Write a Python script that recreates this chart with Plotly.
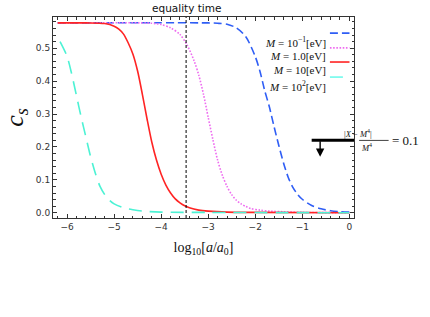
import plotly.graph_objects as go

# ---- data ----
series_names = ["<i>M</i> = 10<sup>−1</sup>[eV]", "<i>M</i> = 1.0[eV]",
                "<i>M</i> = 10[eV]", "<i>M</i> = 10<sup>2</sup>[eV]"]

x_blue = [-6.2, -3.0, -2.8, -2.6, -2.4, -2.2, -2.0, -1.9, -1.8, -1.7, -1.6, -1.5,
          -1.4, -1.3, -1.2, -1.1, -1.0, -0.8, -0.6, -0.4, -0.2, 0.0]
y_blue = [0.577, 0.577, 0.576, 0.573, 0.562, 0.535, 0.475, 0.43, 0.372, 0.322, 0.262,
          0.205, 0.152, 0.108, 0.077, 0.056, 0.041, 0.022, 0.012, 0.006, 0.003, 0.002]

x_mag = [-6.2, -4.2, -4.0, -3.8, -3.6, -3.45, -3.3, -3.2, -3.1, -3.0, -2.9, -2.8,
         -2.7, -2.6, -2.5, -2.4, -2.3, -2.2, -2.1, -1.9, -1.7, -1.4, -1.0, 0.0]
y_mag = [0.577, 0.576, 0.572, 0.562, 0.542, 0.51, 0.462, 0.418, 0.36, 0.29, 0.222,
         0.16, 0.114, 0.08, 0.055, 0.038, 0.027, 0.019, 0.013, 0.008, 0.005, 0.003,
         0.001, 0.0]

x_red = [-6.2, -5.6, -5.2, -5.0, -4.9, -4.8, -4.7, -4.6, -4.5, -4.4, -4.3, -4.2,
         -4.1, -4.0, -3.9, -3.8, -3.7, -3.6, -3.5, -3.4, -3.2, -3.0, -2.6, -2.0, 0.0]
y_red = [0.577, 0.577, 0.575, 0.567, 0.558, 0.543, 0.516, 0.482, 0.43, 0.36, 0.285,
         0.215, 0.16, 0.117, 0.084, 0.06, 0.042, 0.03, 0.021, 0.015, 0.008, 0.005,
         0.002, 0.001, 0.0]

x_cyan = [-6.15, -6.0, -5.9, -5.8, -5.7, -5.6, -5.5, -5.4, -5.3, -5.2, -5.1, -5.0,
          -4.8, -4.6, -4.4, -4.0, -3.0, 0.0]
y_cyan = [0.52, 0.475, 0.42, 0.355, 0.29, 0.23, 0.17, 0.12, 0.08, 0.055, 0.038,
          0.027, 0.015, 0.009, 0.005, 0.002, 0.001, 0.0]

x_ticks = [-6, -5, -4, -3, -2, -1, 0]
y_ticks = [0.0, 0.1, 0.2, 0.3, 0.4, 0.5]

equality_x = -3.47
threshold_y = 0.22
threshold_x0 = -0.8
arrow_x = -0.62
arrow_tip_y = 0.17

colors = ["#2f5ef5", "#ee6cf0", "#ff2424", "#4cf2d4"]
legend_colors = ["#2f5ef5", "#ee6cf0", "#ff3b3b", "#80fbee"]
dashes = ["8px,4px", "1.6px,1.6px", "solid", "13px,8px"]

fig = go.Figure()
for xs, ys, name, c, d in zip([x_blue, x_mag, x_red, x_cyan],
                              [y_blue, y_mag, y_red, y_cyan],
                              series_names, colors, dashes):
    fig.add_trace(go.Scatter(x=xs, y=ys, name=name, mode="lines",
                             line=dict(color=c, width=1.6, dash=d, shape="spline",
                                       smoothing=0.8),
                             showlegend=False, hoverinfo="skip"))

axis_common = dict(showline=True, linecolor="#333", linewidth=1, mirror="allticks",
                   ticks="inside", ticklen=4, tickcolor="#333", tickwidth=1,
                   showgrid=False, zeroline=False, automargin=False,
                   tickfont=dict(family="DejaVu Sans", size=9, color="#333"))

fig.update_xaxes(range=[-6.3, 0.1], tickvals=x_ticks,
                 minor=dict(dtick=0.2, ticklen=2.5, ticks="inside", tickcolor="#333"),
                 title=dict(text="log<sub>10</sub>[<i>a</i>/<i>a</i><sub>0</sub>]",
                            font=dict(family="Liberation Serif", size=14, color="#111"),
                            standoff=11),
                 **axis_common)
fig.update_yaxes(range=[-0.016, 0.595], tickvals=y_ticks, tickformat=".1f",
                 minor=dict(dtick=0.02, ticklen=2.5, ticks="inside", tickcolor="#333"),
                 title=dict(text="<i>c</i><sub><i>s</i></sub>",
                            font=dict(family="Liberation Serif", size=26, color="#111"),
                            standoff=6),
                 **axis_common)

shapes = []
annotations = []
# equality time line
shapes.append(dict(type="line", xref="x", yref="paper", x0=equality_x, x1=equality_x,
                   y0=0, y1=1, line=dict(color="black", width=1, dash="3px,2px")))
annotations.append(dict(x=equality_x, y=1, xref="x", yref="paper", yanchor="bottom",
                        yshift=1, text="equality time", showarrow=False,
                        font=dict(family="DejaVu Sans", size=10.5, color="#111")))
# threshold bar + arrow
shapes.append(dict(type="line", xref="x", yref="y", x0=threshold_x0, x1=0.1,
                   y0=threshold_y, y1=threshold_y, line=dict(color="black", width=3)))
annotations.append(dict(x=arrow_x, y=arrow_tip_y, xref="x", yref="y", ax=0, ay=-17,
                        text="", showarrow=True, arrowhead=2, arrowsize=1.2,
                        arrowwidth=1.4, arrowcolor="black"))
# fraction label
serif = dict(family="Liberation Serif", color="#111")
annotations.append(dict(x=1.066, y=0.386, xref="paper", yref="paper", yanchor="bottom",
                        yshift=-1, text="|<i>X</i> − <i>M</i><sup>4</sup>|",
                        showarrow=False, font=dict(size=8.5, **serif)))
annotations.append(dict(x=1.066, y=0.386, xref="paper", yref="paper", yanchor="top",
                        yshift=0, text="<i>M</i><sup>4</sup>", showarrow=False,
                        font=dict(size=8.5, **serif)))
shapes.append(dict(type="line", xref="paper", yref="paper", x0=1.017, x1=1.115,
                   y0=0.386, y1=0.386, line=dict(color="#111", width=0.8)))
annotations.append(dict(x=1.12, y=0.386, xref="paper", yref="paper", xanchor="left",
                        text="= 0.1", showarrow=False, font=dict(size=13, **serif)))

# manual legend (text left of swatch)
legend_y = [0.920, 0.846, 0.776, 0.701]
for name, c, d, yy in zip(series_names, legend_colors, dashes, legend_y):
    annotations.append(dict(x=0.912, y=yy, xref="paper", yref="paper", xanchor="right",
                            text=name, showarrow=False, font=dict(size=11, **serif)))
    shapes.append(dict(type="line", xref="paper", yref="paper", x0=0.92, x1=0.985,
                       y0=yy, y1=yy, line=dict(color=c, width=1.8, dash=d)))

fig.update_layout(width=430, height=317, margin=dict(l=53, r=76, t=17, b=99),
                  plot_bgcolor="white", paper_bgcolor="white",
                  shapes=shapes, annotations=annotations, showlegend=False)

fig.write_html("out.html", config={"displayModeBar": False},
               post_script="document.body.style.margin='0px';"
                           "document.body.style.padding='0px';")
